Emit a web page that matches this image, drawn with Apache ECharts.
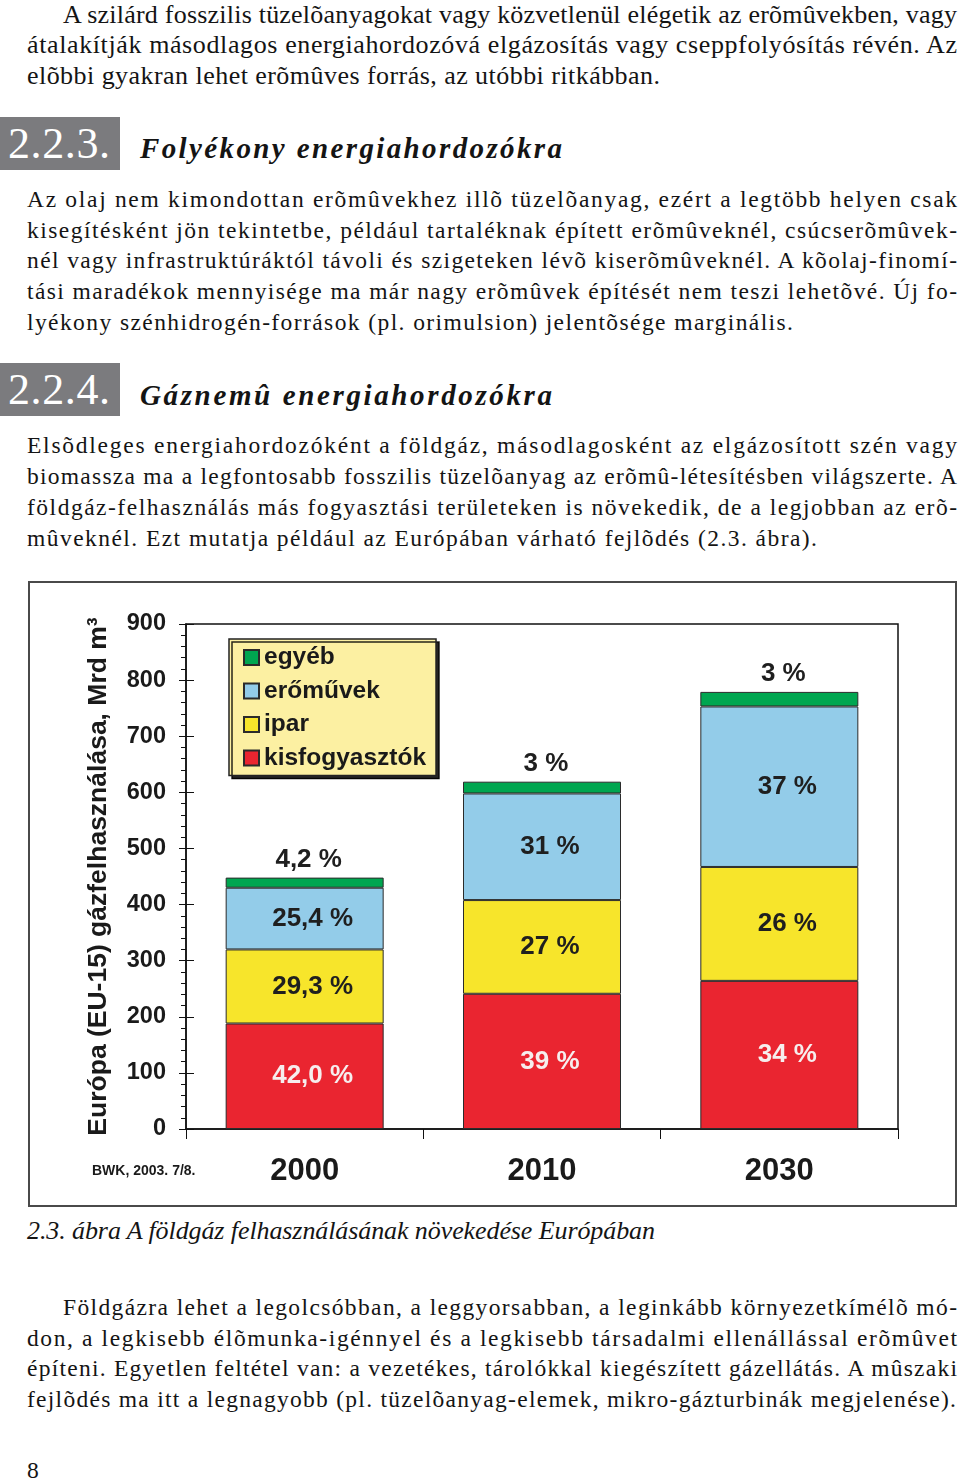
<!DOCTYPE html>
<html>
<head>
<meta charset="utf-8">
<script src="https://cdn.jsdelivr.net/npm/echarts@6/dist/echarts.min.js"></script>
<style>
  html, body { margin:0; padding:0; background:#fff; }
  body { width:960px; height:1482px; position:relative; overflow:hidden; }
  .ln { position:absolute; white-space:nowrap; font-family:'Liberation Serif','Times New Roman',serif; color:#141414; }
  .p1 { font-size:26px; line-height:32px; height:32px; }
  .p2 { font-size:23.5px; line-height:32px; height:32px; }
  .hbox { position:absolute; left:0; width:120px; height:53px; background:#7b7b7e; }
  .hnum { position:absolute; white-space:nowrap; font-family:'Liberation Serif',serif; color:#fff; font-size:44px; line-height:50px; }
  .htitle { position:absolute; white-space:nowrap; font-family:'Liberation Serif',serif; font-style:italic; font-weight:bold; color:#141414; font-size:29px; line-height:36px; }
  .cap { font-style:italic; font-size:26px; line-height:32px; }
  #chart { position:absolute; left:28px; top:581px; width:929px; height:626px; }
  #frame { position:absolute; left:28px; top:581px; width:929px; height:626px; box-sizing:border-box; border:2px solid #4a4a4a; pointer-events:none; }
</style>
</head>
<body>
<!-- paragraph 1 -->
<div class="ln p1" style="left:63px; top:-1px" data-w="894">A szilárd fosszilis tüzelõanyagokat vagy közvetlenül elégetik az erõmûvekben, vagy</div>
<div class="ln p1" style="left:27px; top:29px" data-w="930">átalakítják másodlagos energiahordozóvá elgázosítás vagy cseppfolyósítás révén. Az</div>
<div class="ln p1" style="left:27px; top:60px" data-w="633">elõbbi gyakran lehet erõmûves forrás, az utóbbi ritkábban.</div>

<!-- heading 2.2.3 -->
<div class="hbox" style="top:117px"></div>
<div class="hnum" style="left:8px; top:119px" data-w="102">2.2.3.</div>
<div class="htitle" style="left:140px; top:130px" data-w="422">Folyékony energiahordozókra</div>

<!-- paragraph 2 -->
<div class="ln p2" style="left:27px; top:183px" data-w="930">Az olaj nem kimondottan erõmûvekhez illõ tüzelõanyag, ezért a legtöbb helyen csak</div>
<div class="ln p2" style="left:27px; top:214px" data-w="930">kisegítésként jön tekintetbe, például tartaléknak épített erõmûveknél, csúcserõmûvek-</div>
<div class="ln p2" style="left:27px; top:244px" data-w="930">nél vagy infrastruktúráktól távoli és szigeteken lévõ kiserõmûveknél. A kõolaj-finomí-</div>
<div class="ln p2" style="left:27px; top:275px" data-w="930">tási maradékok mennyisége ma már nagy erõmûvek építését nem teszi lehetõvé. Új fo-</div>
<div class="ln p2" style="left:27px; top:306px" data-w="766">lyékony szénhidrogén-források (pl. orimulsion) jelentõsége marginális.</div>

<!-- heading 2.2.4 -->
<div class="hbox" style="top:363px"></div>
<div class="hnum" style="left:8px; top:365px" data-w="102">2.2.4.</div>
<div class="htitle" style="left:140px; top:377px" data-w="412">Gáznemû energiahordozókra</div>

<!-- paragraph 3 -->
<div class="ln p2" style="left:27px; top:429px" data-w="930">Elsõdleges energiahordozóként a földgáz, másodlagosként az elgázosított szén vagy</div>
<div class="ln p2" style="left:27px; top:460px" data-w="930">biomassza ma a legfontosabb fosszilis tüzelõanyag az erõmû-létesítésben világszerte. A</div>
<div class="ln p2" style="left:27px; top:491px" data-w="930">földgáz-felhasználás más fogyasztási területeken is növekedik, de a legjobban az erõ-</div>
<div class="ln p2" style="left:27px; top:522px" data-w="790">mûveknél. Ezt mutatja például az Európában várható fejlõdés (2.3. ábra).</div>

<div id="chart"></div>
<div id="frame"></div>

<!-- caption -->
<div class="ln cap" style="left:27px; top:1215px" data-w="628">2.3. ábra A földgáz felhasználásának növekedése Európában</div>

<!-- paragraph 4 -->
<div class="ln p2" style="left:63px; top:1291px" data-w="894">Földgázra lehet a legolcsóbban, a leggyorsabban, a leginkább környezetkímélõ mó-</div>
<div class="ln p2" style="left:27px; top:1322px" data-w="930">don, a legkisebb élõmunka-igénnyel és a legkisebb társadalmi ellenállással erõmûvet</div>
<div class="ln p2" style="left:27px; top:1352px" data-w="930">építeni. Egyetlen feltétel van: a vezetékes, tárolókkal kiegészített gázellátás. A mûszaki</div>
<div class="ln p2" style="left:27px; top:1383px" data-w="929">fejlõdés ma itt a legnagyobb (pl. tüzelõanyag-elemek, mikro-gázturbinák megjelenése).</div>

<div class="ln p2" style="left:27px; top:1454px">8</div>

<script>
// ---- chart data ----
const years = ['2000', '2010', '2030'];
const kisfogyasztok = [188, 241, 264];
const ipar = [132, 167, 203];
const eromuvek = [110, 190, 286];
const egyeb = [18, 21, 26];
const pctKisfogyasztok = ['42,0 %', '39 %', '34 %'];
const pctIpar = ['29,3 %', '27 %', '26 %'];
const pctEromuvek = ['25,4 %', '31 %', '37 %'];
const pctEgyeb = ['4,2 %', '3 %', '3 %'];
const legendOrder = ['egyéb', 'erőművek', 'ipar', 'kisfogyasztók'];
const yAxisTitle = 'Európa (EU-15) gázfelhasználása, Mrd m³';
const sourceNote = 'BWK, 2003. 7/8.';
const yMin = 0, yMax = 900, yStep = 100;

// ---- fit text lines to measured widths ----
function fitLines() {
  document.querySelectorAll('[data-w]').forEach(el => {
    el.style.letterSpacing = '0px';
    const w0 = el.getBoundingClientRect().width;
    const n = el.textContent.length;
    const ls = (parseFloat(el.dataset.w) - w0) / Math.max(1, n - 1);
    el.style.letterSpacing = ls.toFixed(3) + 'px';
  });
}
fitLines();
if (document.fonts && document.fonts.ready) document.fonts.ready.then(fitLines);

const SANS = "'Liberation Sans', Arial, Helvetica, sans-serif";
const chart = echarts.init(document.getElementById('chart'), null, { renderer: 'canvas' });

function barSeries(name, data, color, labels, labelColor, position) {
  return {
    name, type: 'bar', stack: 'total', data, barWidth: 158,
    itemStyle: { color, borderColor: '#2b2b2b', borderWidth: 1 },
    label: {
      show: true, position, distance: 5,
      formatter: p => labels[p.dataIndex],
      color: labelColor, fontFamily: SANS, fontWeight: 'bold', fontSize: 26,
      offset: position === 'top' ? [4, 0] : [8, 0]
    },
    emphasis: { disabled: true }
  };
}

const option = {
  animation: false,
  grid: { left: 158, right: 59, top: 43, bottom: 78, show: true, borderColor: '#111', borderWidth: 1.5, backgroundColor: 'transparent' },
  legend: {
    data: legendOrder, orient: 'vertical', left: 201, top: 58,
    icon: 'rect', itemWidth: 15, itemHeight: 15, itemGap: 8.5,
    padding: [6, 10, 5, 14],
    backgroundColor: '#fcf0a2', borderColor: '#222', borderWidth: 1.5,
    shadowColor: 'rgba(0,0,0,0.85)', shadowOffsetX: 3, shadowOffsetY: 3, shadowBlur: 0.5,
    selectedMode: false,
    textStyle: { fontFamily: SANS, fontWeight: 'bold', fontSize: 24.5, color: '#1a1a1a', lineHeight: 24 }
  },
  xAxis: {
    type: 'category', data: years,
    axisLine: { show: true, lineStyle: { color: '#111', width: 1.5 } },
    axisTick: { show: true, length: 10, alignWithLabel: false, lineStyle: { color: '#111' } },
    axisLabel: { margin: 27, fontFamily: SANS, fontWeight: 'bold', fontSize: 31, color: '#1a1a1a' },
    splitLine: { show: false }
  },
  yAxis: [
    {
      type: 'value', min: yMin, max: yMax, interval: yStep,
      name: yAxisTitle, nameLocation: 'middle', nameGap: 74, nameRotate: 90,
      nameTextStyle: { fontFamily: SANS, fontWeight: 'bold', fontSize: 26.5, color: '#1a1a1a' },
      axisLine: { show: true, lineStyle: { color: '#111', width: 1.5 } },
      axisTick: { show: true, length: 7, lineStyle: { color: '#111' } },
      minorTick: { show: true, splitNumber: 5, length: 5, lineStyle: { color: '#111' } },
      axisLabel: { margin: 20, fontFamily: SANS, fontWeight: 'bold', fontSize: 23.5, color: '#1a1a1a' },
      splitLine: { show: false }
    },
    {
      type: 'value', min: yMin, max: yMax, interval: yStep, position: 'left',
      axisLine: { show: false },
      axisTick: { show: true, inside: true, length: 8, lineStyle: { color: '#111' } },
      axisLabel: { show: false },
      splitLine: { show: false }
    }
  ],
  graphic: [{
    type: 'text', left: 64, top: 583,
    style: { text: sourceNote, font: "bold 14px " + SANS, fill: '#1a1a1a' }
  }],
  series: [
    barSeries('kisfogyasztók', kisfogyasztok, '#ea2530', pctKisfogyasztok, '#f6eeee', 'inside'),
    barSeries('ipar', ipar, '#f7e52b', pctIpar, '#1f1f1f', 'inside'),
    barSeries('erőművek', eromuvek, '#93cce9', pctEromuvek, '#1f1f1f', 'inside'),
    barSeries('egyéb', egyeb, '#00a650', pctEgyeb, '#1f1f1f', 'top')
  ]
};
chart.setOption(option);
</script>
</body>
</html>
